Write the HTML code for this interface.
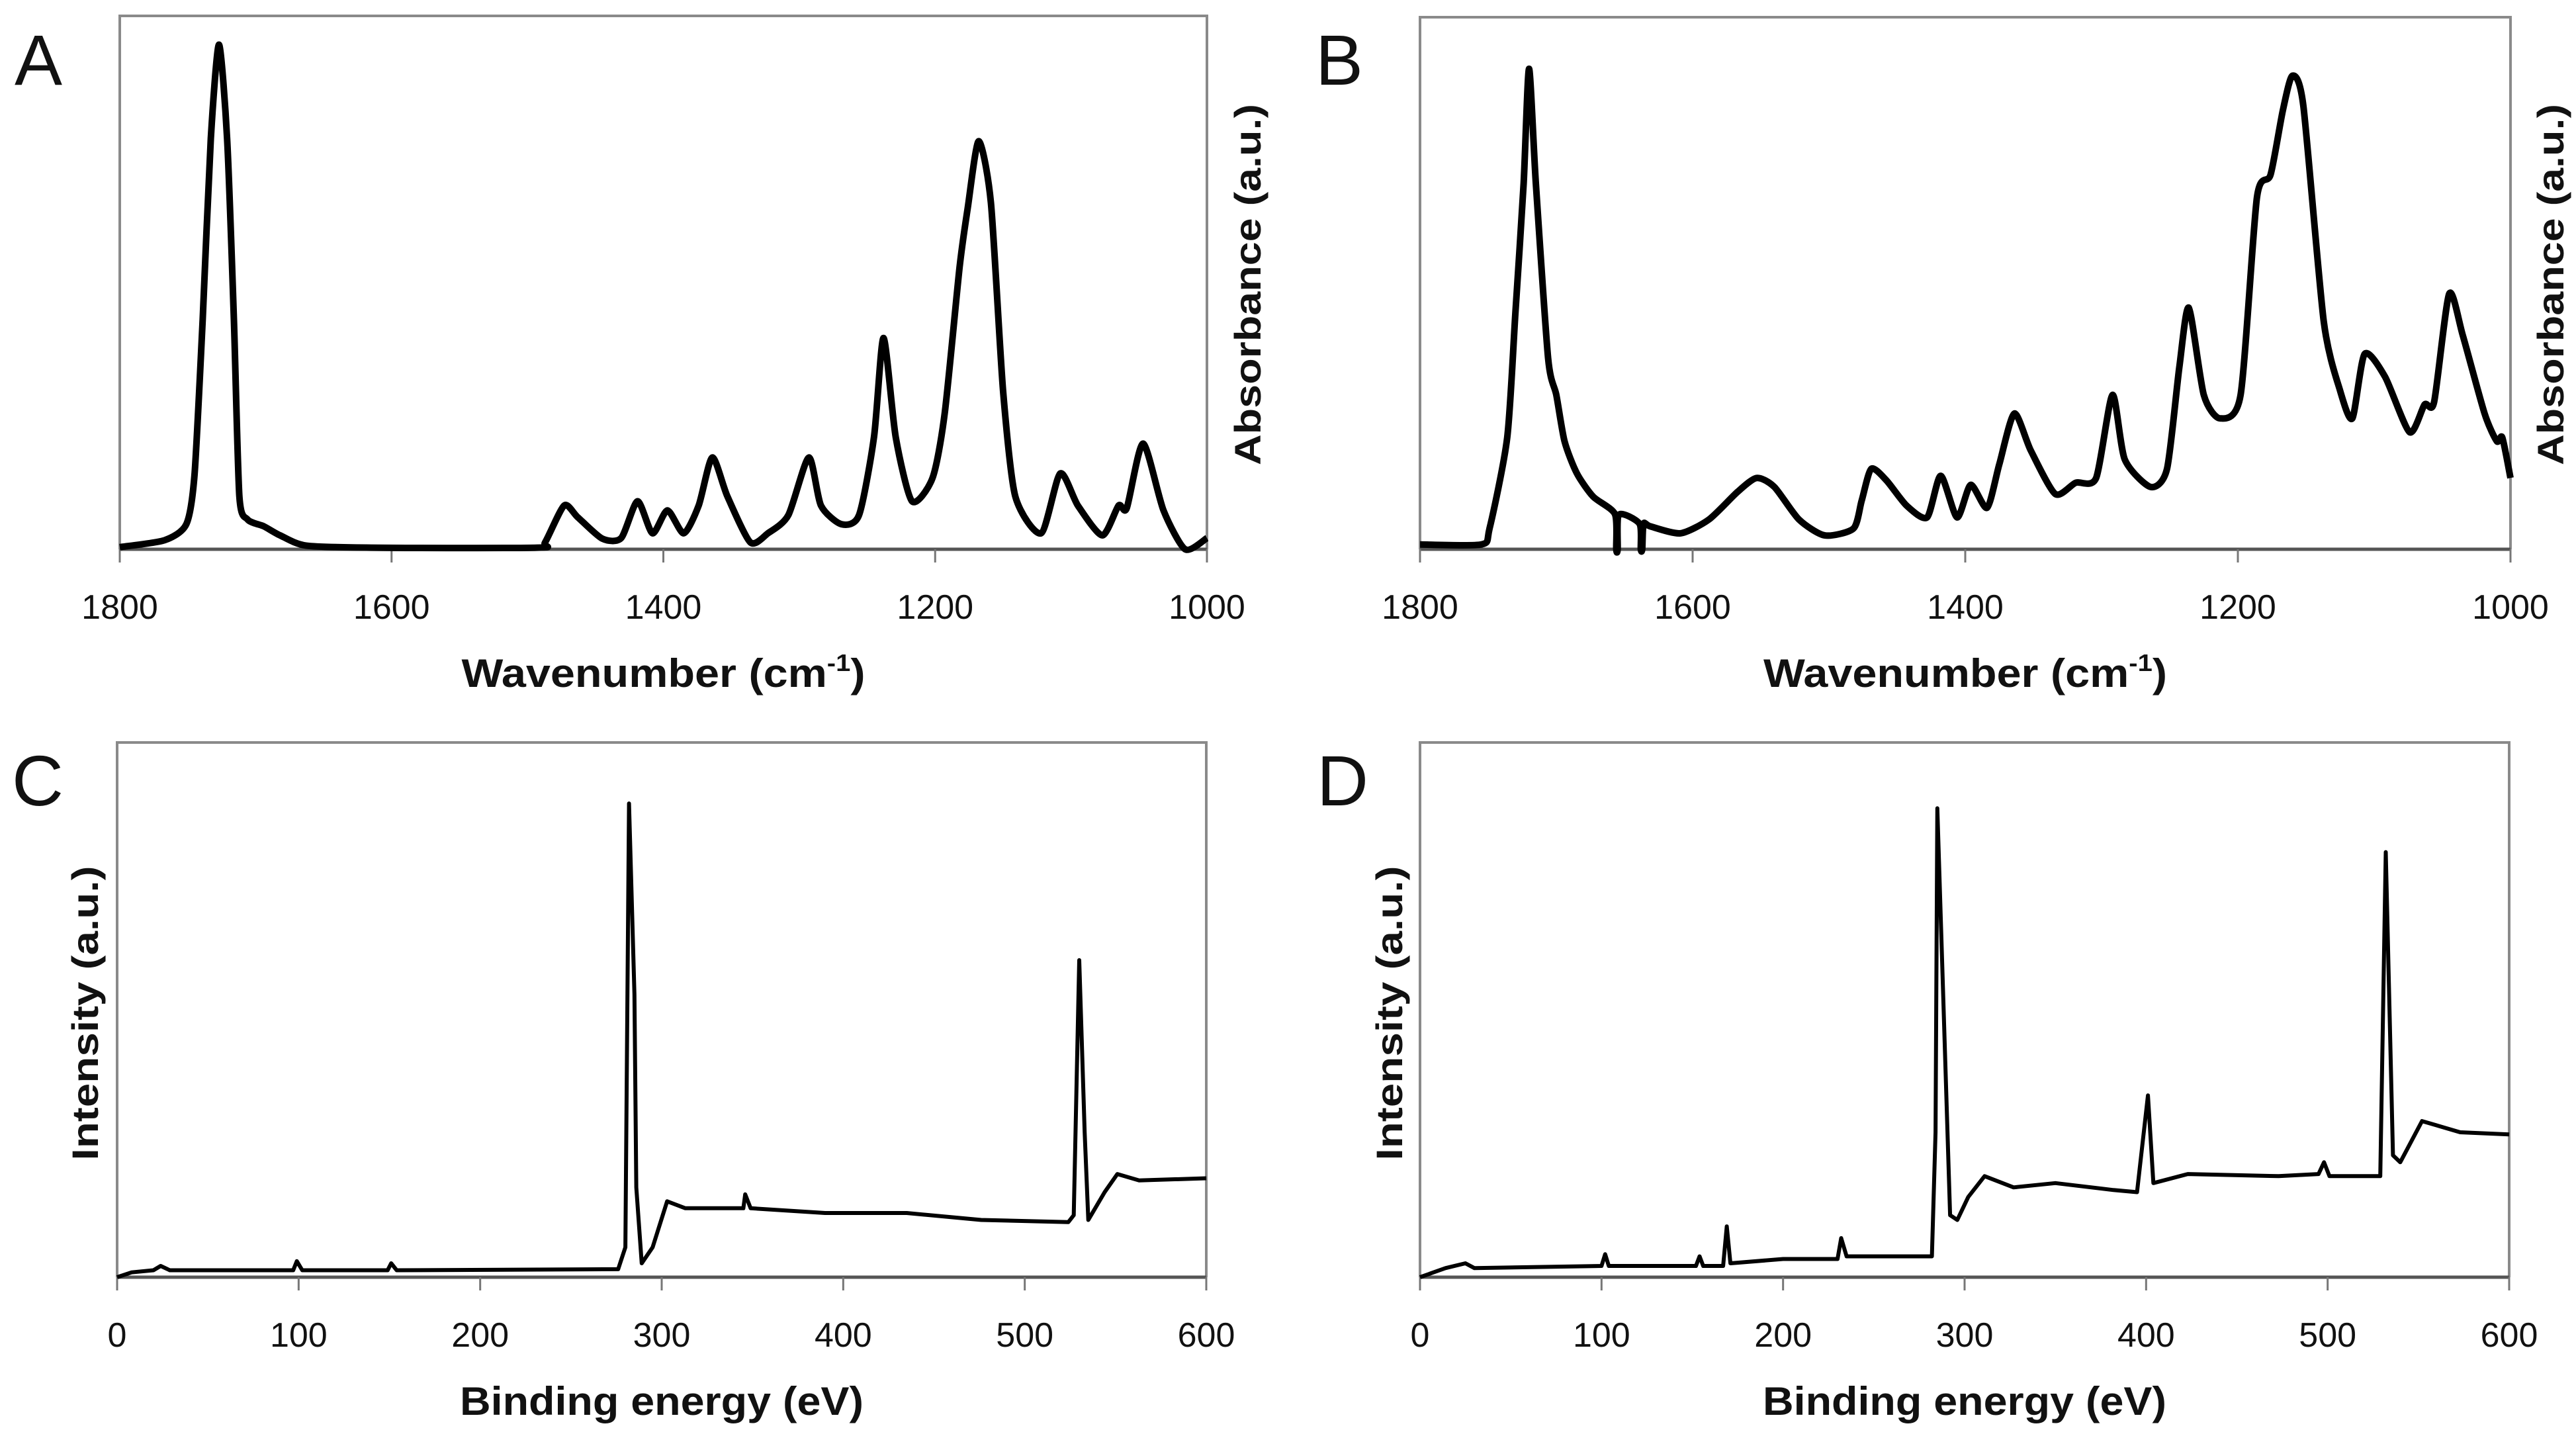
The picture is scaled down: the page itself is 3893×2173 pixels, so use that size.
<!DOCTYPE html>
<html><head><meta charset="utf-8"><style>
html,body{margin:0;padding:0;background:#fff;}
svg{display:block;}
text{font-family:"Liberation Sans",sans-serif;fill:#111;}
</style></head><body>
<svg id="fig" width="3893" height="2173" viewBox="0 0 3893 2173" xmlns="http://www.w3.org/2000/svg">
<rect width="3893" height="2173" fill="#fff"/>
</svg>
<script>
// Panel A (FTIR) data: wavenumber, normalized absorbance
const aWave=[1800,1767,1751,1745,1739,1733,1727,1721,1716,1712,1706,1694,1682,1663,1615,1493,1487,1473,1463,1445,1431,1419,1408,1397,1385,1374,1364,1353,1336,1323,1308,1293,1284,1269,1256,1245,1238,1229,1217,1202,1193,1182,1176,1168,1159,1150,1141,1122,1108,1095,1077,1065,1059,1047,1032,1016,1000];
const aAbs=[.004,.017,.047,.14,.43,.77,.946,.77,.43,.10,.056,.043,.026,.007,.003,.003,.013,.082,.06,.02,.021,.09,.03,.073,.03,.082,.172,.10,.013,.03,.064,.172,.082,.047,.064,.21,.396,.21,.09,.133,.254,.529,.64,.765,.65,.297,.099,.03,.142,.082,.026,.082,.077,.198,.073,.0,.021];
// Panel B (FTIR)
const bWave=[1800,1755,1749,1736,1730,1724,1720,1715,1706,1700,1694,1685,1673,1657,1656,1655,1654,1639,1638,1637,1636,1631,1609,1588,1567,1553,1540,1522,1503,1482,1476,1469,1458,1443,1428,1418,1406,1396,1384,1375,1364,1352,1334,1319,1304,1292,1283,1264,1252,1243,1236,1225,1213,1198,1186,1176,1167,1160,1152,1137,1125,1116,1107,1092,1074,1063,1056,1045,1035,1019,1010,1006,1000];
const bAbs=[.009,.009,.039,.21,.445,.687,.903,.687,.359,.29,.203,.143,.099,.066,.0,.0,.065,.048,.0,.0,.048,.043,.03,.056,.108,.134,.117,.056,.026,.039,.091,.151,.13,.082,.06,.138,.06,.121,.078,.16,.255,.186,.104,.125,.134,.29,.169,.117,.151,.341,.454,.29,.246,.29,.661,.704,.825,.89,.834,.428,.298,.246,.367,.324,.22,.272,.277,.48,.402,.255,.203,.21,.134];
// Panel C (XPS)
const cEnergy=[0,8,20,24,29,72,97,99,102,149,151,154,276,280,282,285,286,289,295,303,313,345,346,349,390,435,476,524,527,530,533,535,544,551,563,600];
const cInt=[0,.009,.013,.021,.013,.013,.013,.03,.013,.013,.026,.013,.015,.056,.886,.529,.168,.026,.056,.142,.129,.129,.155,.129,.12,.12,.107,.103,.116,.593,.271,.107,.159,.193,.181,.185];
// Panel D (XPS)
const dEnergy=[0,14,25,30,100,102,104,152,154,156,167,169,171,200,230,232,235,282,284,285,289,292,296,302,311,327,350,382,395,401,404,423,473,495,498,501,529,532,536,540,552,573,600];
const dInt=[0,.017,.026,.017,.021,.043,.021,.021,.039,.021,.021,.095,.026,.034,.034,.073,.039,.039,.271,.877,.443,.116,.107,.15,.189,.168,.176,.163,.159,.34,.176,.193,.189,.193,.215,.189,.189,.795,.228,.215,.292,.271,.267];
const irTicks=["1800","1600","1400","1200","1000"];
const irTickVals=[1800,1600,1400,1200,1000];
const xpsTicks=["0","100","200","300","400","500","600"];
const xpsTickVals=[0,100,200,300,400,500,600];

const NS="http://www.w3.org/2000/svg";
const svg=document.getElementById('fig');
function mk(tag,attrs,parent){const e=document.createElementNS(NS,tag);for(const k in attrs)e.setAttribute(k,attrs[k]);(parent||svg).appendChild(e);return e;}

function smoothPath(P){
  let d=`M${P[0][0].toFixed(1)},${P[0][1].toFixed(1)}`;
  const k=0.12;
  for(let i=0;i<P.length-1;i++){
    const p0=P[i-1]||P[i],p1=P[i],p2=P[i+1],p3=P[i+2]||P[i+1];
    const c1=[p1[0]+(p2[0]-p0[0])*k,p1[1]+(p2[1]-p0[1])*k];
    const c2=[p2[0]-(p3[0]-p1[0])*k,p2[1]-(p3[1]-p1[1])*k];
    d+=` C${c1[0].toFixed(1)},${c1[1].toFixed(1)} ${c2[0].toFixed(1)},${c2[1].toFixed(1)} ${p2[0].toFixed(1)},${p2[1].toFixed(1)}`;
  }
  return d;
}

function panel(o){
  const g=mk('g',{});
  
  
  const sx=v=>o.L+(v-o.x0)/(o.x1-o.x0)*(o.R-o.L);
  const sy=v=>o.B-v*(o.B-o.T);
  const frame=mk('path',{d:`M${o.L},${o.B} L${o.L},${o.T} L${o.R},${o.T} L${o.R},${o.B}`,fill:'none',stroke:'#8a8a8a','stroke-width':4},g);
  
  
  const ax=mk('line',{x1:o.L,x2:o.R,y1:o.B,y2:o.B,stroke:'#555','stroke-width':5},g);
  
  
  o.tv.forEach((v,i)=>{
    const x=sx(v);
    const t=mk('line',{x1:x,x2:x,y1:o.B,y2:o.B+20,stroke:'#777','stroke-width':3},g);
    
    
    const lb=mk('text',{x:x,y:o.B+105,'font-size':52,'text-anchor':'middle'},g);
    
    
    lb.textContent=o.tl[i];
  });
  const P=o.xs.map((v,i)=>[sx(v),sy(o.ys[i])]);
  let el;
  if(o.smooth){
    el=mk('path',{d:smoothPath(P),fill:'none',stroke:'#000','stroke-width':o.lw,'stroke-linejoin':'round'},g);
  } else {
    el=mk('polyline',{points:P.map(p=>p[0].toFixed(1)+','+p[1].toFixed(1)).join(' '),fill:'none',stroke:'#000','stroke-width':o.lw,'stroke-linejoin':'round'},g);
  }
  
  
  const xt=mk('text',{x:(o.L+o.R)/2,y:o.B+208,'font-size':60,'font-weight':'bold','text-anchor':'middle',textLength:o.xtLen,lengthAdjust:'spacingAndGlyphs'},g);
  
  
  if(o.sup){xt.textContent=o.xt;const ts=mk('tspan',{'font-size':36,dy:-24},xt);ts.textContent='-1';const t2=mk('tspan',{dy:24},xt);t2.textContent=')';}
  else xt.textContent=o.xt;
  const yt=mk('text',{x:0,y:0,'font-size':56,'font-weight':'bold','text-anchor':'middle',textLength:o.ytLen,lengthAdjust:'spacingAndGlyphs',transform:`translate(${o.ytx},${o.yty}) rotate(-90)`},g);
  
  
  yt.textContent=o.yt;
  const le=mk('text',{x:o.lx,y:o.ly,'font-size':108},g);
  
  
  le.textContent=o.letter;
}
panel({name:'panel-a-ftir',L:181,R:1824,T:24,B:830,x0:1800,x1:1000,xs:aWave,ys:aAbs,tv:irTickVals,tl:irTicks,lw:10,smooth:true,xt:'Wavenumber (cm',sup:true,xtLen:610,yt:'Absorbance (a.u.)',ytx:1905,yty:430,ytLen:546,letter:'A',lx:22,ly:128});
panel({name:'panel-b-ftir',L:2146,R:3794,T:26,B:830,x0:1800,x1:1000,xs:bWave,ys:bAbs,tv:irTickVals,tl:irTicks,lw:10,smooth:true,xt:'Wavenumber (cm',sup:true,xtLen:610,yt:'Absorbance (a.u.)',ytx:3874,yty:430,ytLen:546,letter:'B',lx:1988,ly:128});
panel({name:'panel-c-xps',L:177,R:1823,T:1122,B:1930,x0:0,x1:600,xs:cEnergy,ys:cInt,tv:xpsTickVals,tl:xpsTicks,lw:6,smooth:false,xt:'Binding energy (eV)',sup:false,xtLen:610,yt:'Intensity (a.u.)',ytx:148,yty:1531,ytLen:445,letter:'C',lx:18,ly:1217});
panel({name:'panel-d-xps',L:2146,R:3792,T:1122,B:1930,x0:0,x1:600,xs:dEnergy,ys:dInt,tv:xpsTickVals,tl:xpsTicks,lw:6,smooth:false,xt:'Binding energy (eV)',sup:false,xtLen:610,yt:'Intensity (a.u.)',ytx:2119,yty:1531,ytLen:445,letter:'D',lx:1990,ly:1217});
</script>
</body></html>
